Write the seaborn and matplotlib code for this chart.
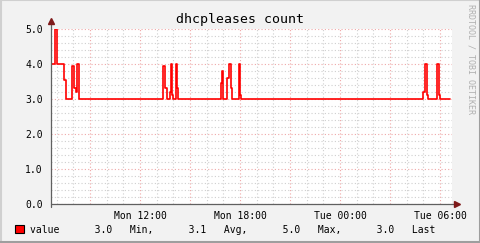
import matplotlib
matplotlib.use('Agg')
import matplotlib.pyplot as plt
import seaborn as sns
import pandas as pd
from matplotlib.ticker import MultipleLocator, FixedLocator, FuncFormatter
from matplotlib.patches import Rectangle
from matplotlib.lines import Line2D

# ---- data (hours since Mon 00:00, step values) ----
hours = [6.66, 6.92, 6.99, 7.05, 7.41, 7.53, 7.95, 8.04, 8.16, 8.22, 8.31, 8.37,
         13.38, 13.52, 13.60, 13.78, 13.84, 13.92, 13.98, 14.14, 14.24, 14.30,
         16.86, 16.90, 16.98, 17.24, 17.32, 17.36, 17.44, 17.49,
         17.92, 17.96, 18.02, 18.06,
         28.98, 29.10, 29.20, 29.28, 29.80, 29.84, 29.94, 30.00, 30.60]
values = [4.0, 5.0, 4.3, 4.0, 3.55, 3.0, 3.95, 3.3, 3.2, 4.0, 3.05, 3.0,
          3.95, 3.3, 3.0, 3.2, 4.0, 3.1, 3.0, 4.0, 3.3, 3.0,
          3.45, 3.8, 3.0, 3.6, 3.7, 4.0, 3.3, 3.0,
          3.2, 4.0, 3.1, 3.0,
          3.2, 4.0, 3.1, 3.0, 3.2, 4.0, 3.1, 3.0, 3.0]

xtick_hours = [12, 18, 24, 30]
xtick_labels = ["Mon 12:00", "Mon 18:00", "Tue 00:00", "Tue 06:00"]
ytick_values = [0.0, 1.0, 2.0, 3.0, 4.0, 5.0]
title = "dhcpleases count"
series_name = "value"
stat_values = [3.0, 3.1, 5.0, 3.0]
stat_names = ["Min,", "Avg,", "Max,", "Last"]
side_text = "RRDTOOL / TOBI OETIKER"

df = pd.DataFrame({"hour": hours, "value": values})

sns.set_style("white")
plt.rcParams['font.family'] = ['DejaVu Sans Mono', 'DejaVu Sans']

W, H = 481, 243
fig = plt.figure(figsize=(W / 100, H / 100), dpi=100, facecolor='#F2F2F2')

# frame shading
fig.add_artist(Line2D([0, 1], [1 - 0.5 / H, 1 - 0.5 / H], transform=fig.transFigure, color='#D0D0D0', lw=1.5))
fig.add_artist(Line2D([0.5 / W, 0.5 / W], [0, 1], transform=fig.transFigure, color='#D0D0D0', lw=1.5))
fig.add_artist(Line2D([0, 1], [1 / H, 1 / H], transform=fig.transFigure, color='#9E9E9E', lw=1.5))
fig.add_artist(Line2D([1 - 1 / W, 1 - 1 / W], [0, 1], transform=fig.transFigure, color='#9E9E9E', lw=1.5))

x0, x1, yb, yt = 51, 452, 204, 29
ax = fig.add_axes([x0 / W, 1 - yb / H, (x1 - x0) / W, (yb - yt) / H])
ax.set_facecolor('white')

sns.lineplot(data=df, x="hour", y="value", ax=ax, drawstyle='steps-post',
             color='#FF0000', linewidth=1.2, zorder=3)

ax.set_xlim(6.66, 6.66 + (x1 - x0) * 0.06)
ax.set_ylim(0, 5.0)
ax.set_xlabel("")
ax.set_ylabel("")

# grids
ax.xaxis.set_major_locator(MultipleLocator(3))
ax.xaxis.set_minor_locator(MultipleLocator(1))
ax.yaxis.set_major_locator(FixedLocator(ytick_values))
ax.yaxis.set_minor_locator(MultipleLocator(0.2))
lab = dict(zip(xtick_hours, xtick_labels))
ax.xaxis.set_major_formatter(FuncFormatter(lambda v, p: lab.get(int(round(v)), "") if abs(v - round(v)) < 1e-6 else ""))
ax.yaxis.set_major_formatter(FuncFormatter(lambda v, p: f"{v:.1f}"))

ax.grid(True, which='minor', color='#CFCFCF', linestyle=(0, (1, 2)), linewidth=0.8)
ax.grid(True, which='major', color='#EFA8A8', linestyle=(0, (1, 2)), linewidth=0.8)
ax.set_axisbelow(True)

for s in ax.spines.values():
    s.set_visible(False)

ax.tick_params(axis='both', which='both', direction='out', colors='#707070', labelcolor='black',
               labelsize=7, width=0.8)
ax.tick_params(axis='both', which='major', length=3)
ax.tick_params(axis='both', which='minor', length=2)
ax.tick_params(axis='x', which='major', pad=2)
ax.tick_params(axis='y', which='major', pad=3)

# axes lines with arrows
axis_col = '#606060'
ax.plot([0, 1.01], [0, 0], transform=ax.transAxes, clip_on=False, color=axis_col, lw=0.9, zorder=4)
ax.plot([0, 0], [-0.015, 1.04], transform=ax.transAxes, clip_on=False, color=axis_col, lw=0.9, zorder=4)
ax.plot([1.012], [0], transform=ax.transAxes, clip_on=False, marker='>', color='#7F1A1A', ms=4, zorder=5)
ax.plot([0], [1.045], transform=ax.transAxes, clip_on=False, marker='^', color='#7F1A1A', ms=4, zorder=5)

fig.text(0.5, 1 - 19.5 / H, title, ha='center', va='center', fontsize=9.5, color='black')
fig.text(471 / W, 1 - 4 / H, side_text, rotation=270, ha='center', va='top', fontsize=6, color='#B0B0B0')

# legend
fig.add_artist(Rectangle((15 / W, 1 - 233 / H), 9 / W, 8 / H, transform=fig.transFigure,
                         facecolor='#FF0000', edgecolor='black', lw=0.8))
parts = [series_name.ljust(11)]
for i, (v, n) in enumerate(zip(stat_values, stat_names)):
    parts.append(f"{v:.1f}   {n}" + (" " * 6 if i < len(stat_values) - 1 else ""))
legend_txt = "".join(parts)
fig.text(30 / W, 1 - 232.5 / H, legend_txt, ha='left', va='baseline', fontsize=7, color='black')

fig.savefig("out.png", dpi=100, facecolor=fig.get_facecolor())
